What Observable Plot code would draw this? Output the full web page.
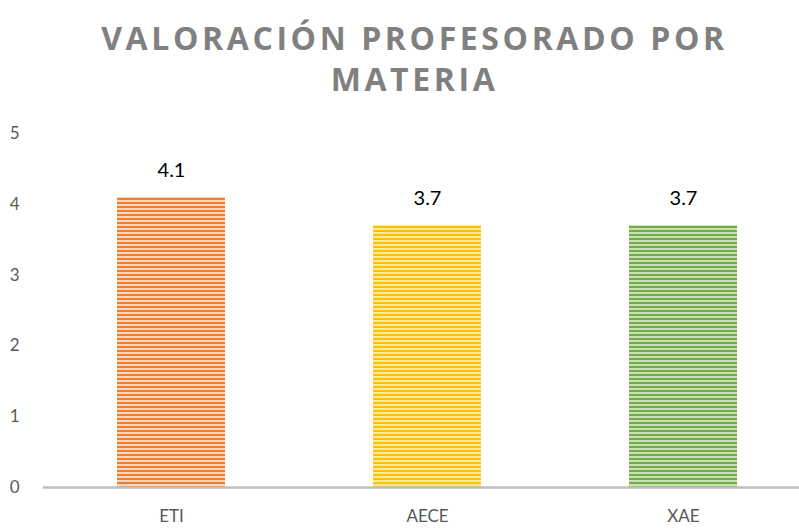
<!DOCTYPE html>
<html><head><meta charset="utf-8">
<script src="https://cdn.jsdelivr.net/npm/d3@7"></script>
<script src="https://cdn.jsdelivr.net/npm/@observablehq/plot@0.6"></script>
<style>
html,body{margin:0;padding:0;background:#fff;overflow:hidden;width:799px;height:529px}
#title{position:relative;left:15px;height:110px;text-align:center;font-family:"Open Sans",sans-serif;font-weight:700;font-size:32px;letter-spacing:3.6px;color:#808080;line-height:41px;padding-top:17px;box-sizing:border-box;white-space:nowrap}
#chart svg{display:block;overflow:visible;max-width:none !important}
</style></head><body>
<div id="title">VALORACIÓN PROFESORADO POR<br>MATERIA</div>
<div id="chart"></div>
<script>
const categories = ["ETI", "AECE", "XAE"];
const values = [4.1, 3.7, 3.7];
const labels = ["4.1", "3.7", "3.7"];
const yTicks = [0, 1, 2, 3, 4, 5];
const darkColors = ["#ED7D31", "#FFC000", "#70AD47"];
const lightColors = ["#FBD5BA", "#FFE79A", "#C8E2B6"];

const data = categories.map((c, i) => ({cat: c, value: values[i], label: labels[i], pid: "pat" + i}));

const plot = Plot.plot({
  width: 811,
  height: 419,
  marginLeft: 43,
  marginRight: 0,
  marginTop: 23,
  marginBottom: 42,
  style: {fontFamily: "Lato, 'Open Sans', sans-serif", fontSize: "17px", color: "#595959", background: "transparent", maxWidth: "none"},
  x: {domain: categories, paddingInner: 0.58, paddingOuter: 0.29, label: null, tickSize: 0, tickPadding: 22},
  y: {domain: [0, 5], ticks: yTicks, tickFormat: d3.format("d"), label: null, tickSize: 0, tickPadding: 24},
  marks: [
    Plot.barY(data, {x: "cat", y: "value", fill: d => `url(#${d.pid})`}),
    Plot.ruleY([0], {stroke: "#BFBFBF", strokeWidth: 2.5, dx: 0}),
    Plot.text(data, {x: "cat", y: "value", text: "label", dy: -27, fill: "#000", fontSize: 20})
  ]
});
plot.style.maxWidth = "none";
const svg = d3.select(plot);
const defs = svg.insert("defs", ":first-child");
darkColors.forEach((dc, i) => {
  const p = defs.append("pattern").attr("id", "pat" + i).attr("patternUnits", "userSpaceOnUse")
    .attr("width", 8).attr("height", 4);
  p.append("rect").attr("width", 8).attr("height", 4).attr("fill", lightColors[i]);
  p.append("rect").attr("width", 8).attr("height", 2).attr("fill", dc);
});
document.getElementById("chart").appendChild(plot);
</script>
</body></html>
